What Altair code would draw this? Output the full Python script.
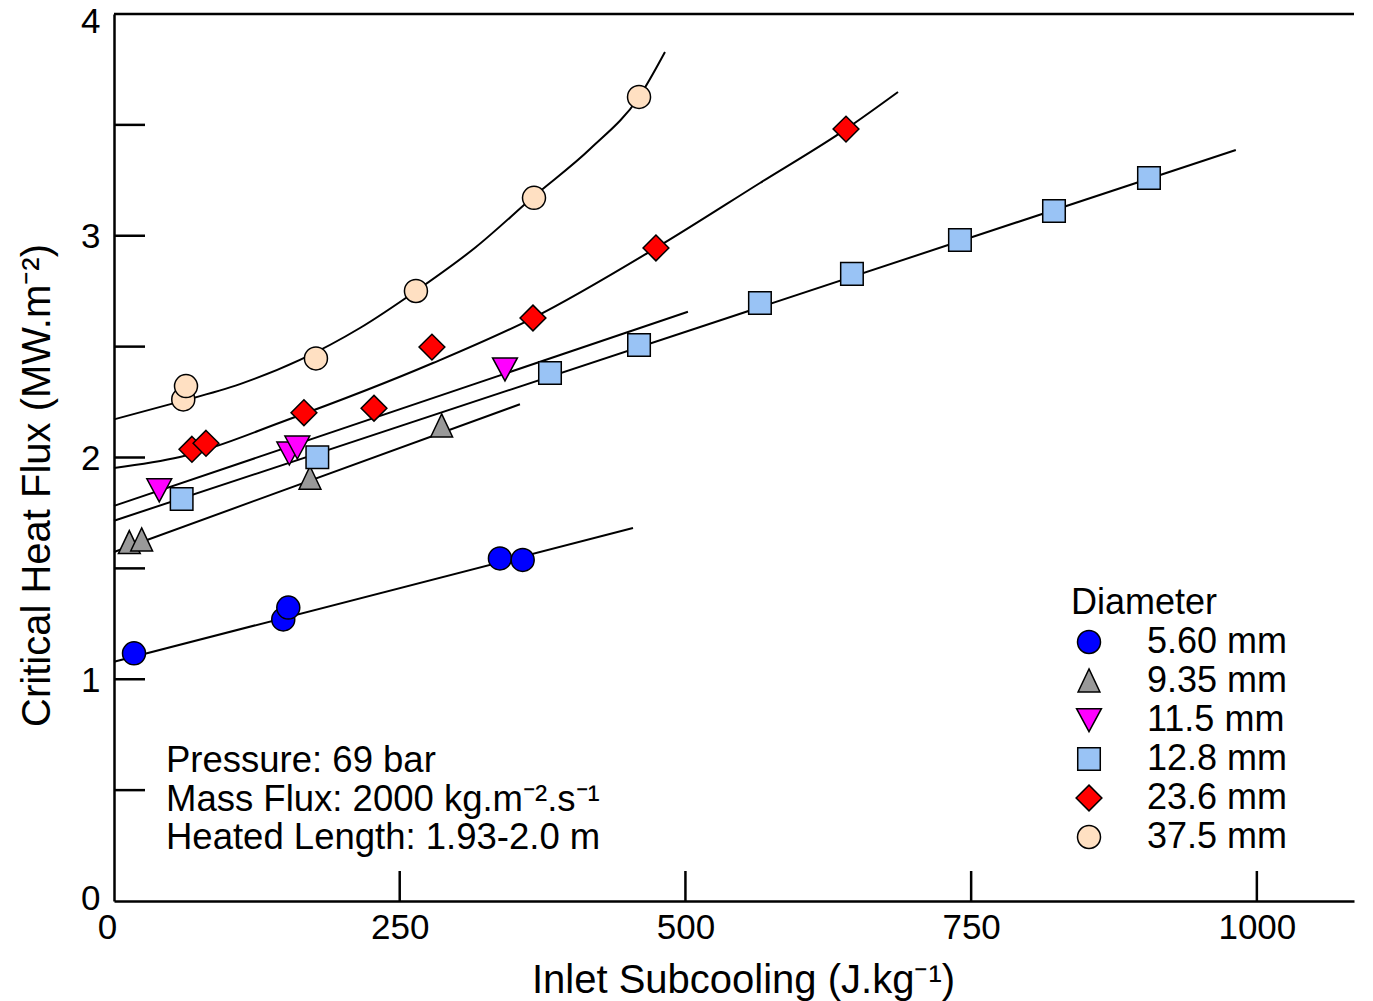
import altair as alt
import pandas as pd

FONT = "Liberation Sans, Arial, sans-serif"

# ---------------- data ----------------
diameters = ["5.60 mm", "9.35 mm", "11.5 mm", "12.8 mm", "23.6 mm", "37.5 mm"]
fill_colors = ["#0000ff", "#999999", "#ff00ff", "#99c3f5", "#ff0000", "#ffe0c2"]
stroke_colors = ["black", "black", "black", "black", "black", "black"]
shape_paths = [
    "circle",
    "M0,-1.05L0.95,0.95L-0.95,0.95Z",
    "M-1.08,-0.98L1.08,-0.98L0,1.02Z",
    "M-0.98,-0.98L0.98,-0.98L0.98,0.98L-0.98,0.98Z",
    "M0,-1.12L1.12,0L0,1.12L-1.12,0Z",
    "circle",
]

# measured points (inlet subcooling, CHF)
d560_x = [17.5, 148.1, 152.5, 337.7, 357.6]
d560_y = [1.117, 1.270, 1.323, 1.545, 1.538]
d935_x = [13.4, 24.2, 171.5, 286.7]
d935_y = [1.616, 1.628, 1.906, 2.142]
d115_x = [39.6, 153.4, 160.4, 342.1]
d115_y = [1.853, 2.019, 2.046, 2.398]
d128_x = [59.2, 177.9, 381.5, 459.4, 565.2, 645.7, 740.2, 822.5, 905.6]
d128_y = [1.813, 2.001, 2.381, 2.507, 2.697, 2.828, 2.981, 3.112, 3.260]
d236_x = [68.2, 80.5, 166.2, 227.5, 278.2, 366.6, 474.2, 640.5]
d236_y = [2.037, 2.064, 2.202, 2.222, 2.498, 2.629, 2.945, 3.481]
d375_x = [60.6, 63.0, 176.7, 264.2, 367.5, 459.4]
d375_y = [2.262, 2.322, 2.447, 2.751, 3.171, 3.626]

# fitted curves, knots
fit560_x = [0, 454.1]
fit560_y = [1.079, 1.682]
fit935_x = [0, 355.2]
fit935_y = [1.574, 2.240]
fit115_x = [0, 502.2]
fit115_y = [1.782, 2.657]
fit128_x = [0, 981.6]
fit128_y = [1.715, 3.387]
fit236_x = [0, 57.7, 151.4, 279.1, 366.6, 474.2, 565.2, 640.5, 686.0]
fit236_y = [1.953, 2.002, 2.169, 2.426, 2.629, 2.945, 3.238, 3.481, 3.648]
fit375_x = [0, 51.9, 110.2, 162.7, 215.2, 264.2, 316.2, 367.5, 416.5, 459.4, 482.1]
fit375_y = [2.172, 2.244, 2.331, 2.440, 2.584, 2.751, 2.947, 3.178, 3.391, 3.626, 3.829]

x_ticks = [250, 500, 750, 1000]
x_labels = [0, 250, 500, 750, 1000]
y_minor_ticks = [0.5, 1.0, 1.5, 2.0, 2.5, 3.0, 3.5]
y_labels = [0, 1, 2, 3, 4]

notes = ["Pressure: 69 bar", "Mass Flux: 2000 kg.m\u207b\u00b2.s\u207b\u00b9", "Heated Length: 1.93-2.0 m"]
notes_x = [45.5, 45.5, 45.5]
notes_y = [0.631, 0.457, 0.284]

X_MAX = 1085
Y_MAX = 4

# ---------------- tables ----------------
pts_sets = [(d560_x, d560_y), (d935_x, d935_y), (d115_x, d115_y),
            (d128_x, d128_y), (d236_x, d236_y), (d375_x, d375_y)]
fit_sets = [(fit560_x, fit560_y), (fit935_x, fit935_y), (fit115_x, fit115_y),
            (fit128_x, fit128_y), (fit236_x, fit236_y), (fit375_x, fit375_y)]

pts_rows, fit_rows = [], []
for name, (xs, ys) in zip(diameters, pts_sets):
    for a, b in zip(xs, ys):
        pts_rows.append({"x": a, "y": b, "Diameter": name})
for name, (xs, ys) in zip(diameters, fit_sets):
    for i, (a, b) in enumerate(zip(xs, ys)):
        fit_rows.append({"x": a, "y": b, "curve": name, "order": i})
pts = pd.DataFrame(pts_rows)
fits = pd.DataFrame(fit_rows)

xscale = alt.Scale(domain=[0, X_MAX], nice=False, zero=False)
yscale = alt.Scale(domain=[0, Y_MAX], nice=False, zero=False)

x_axis = alt.Axis(
    values=x_labels, ticks=False, tickSize=0, grid=False, format="d",
    domainColor="black", domainWidth=2.5, labelFlush=False,
    labelFont=FONT, labelFontSize=35, labelColor="black", labelPadding=9,
    labelOffset={"condition": [{"test": "datum.value == 0", "value": -7}], "value": 0},
    title="Inlet Subcooling (J.kg\u207b\u00b9)", titleFont=FONT, titleFontSize=40,
    titleFontWeight="normal", titleColor="black", titleX=629, titleY=79,
    titleBaseline="middle", titleAlign="center",
)
y_axis = alt.Axis(
    values=y_labels, ticks=False, tickSize=0, grid=False, format="d",
    domainColor="black", domainWidth=2.5,
    labelFont=FONT, labelFontSize=35, labelColor="black", labelPadding=14,
    labelOffset={"condition": [{"test": "datum.value == 4", "value": 7},
                               {"test": "datum.value == 0", "value": -3}], "value": 1},
    title="Critical Heat Flux (MW.m\u207b\u00b2)", titleFont=FONT, titleFontSize=40,
    titleFontWeight="normal", titleColor="black", titleX=-77, titleY=471,
    titleBaseline="middle", titleAlign="center", titleAngle=270,
)

lines = alt.Chart(fits).mark_line(color="black", strokeWidth=2, interpolate="monotone").encode(
    x=alt.X("x:Q", scale=xscale, axis=x_axis),
    y=alt.Y("y:Q", scale=yscale, axis=y_axis),
    detail="curve:N",
    order="order:Q",
)

legend = alt.Legend(
    orient="none", legendX=957, legendY=572, padding=0,
    title="Diameter", titleFont=FONT, titleFontSize=36, titleFontWeight="normal",
    titleColor="black", titlePadding=2,
    labelFont=FONT, labelFontSize=36, labelColor="black", labelOffset=40,
    symbolSize=529, symbolStrokeColor="black", symbolStrokeWidth=1.5,
    symbolOpacity=1, rowPadding=3,
)

points = alt.Chart(pts).mark_point(
    filled=True, size=529, strokeWidth=1.5, opacity=1
).encode(
    x=alt.X("x:Q", scale=xscale),
    y=alt.Y("y:Q", scale=yscale),
    fill=alt.Fill("Diameter:N", scale=alt.Scale(domain=diameters, range=fill_colors),
                  sort=diameters, legend=legend),
    shape=alt.Shape("Diameter:N", scale=alt.Scale(domain=diameters, range=shape_paths),
                    sort=diameters, legend=legend),
    stroke=alt.Stroke("Diameter:N", scale=alt.Scale(domain=diameters, range=stroke_colors),
                      sort=diameters, legend=legend),
)

xt = pd.DataFrame({"x": x_ticks})
x_tick_marks = alt.Chart(xt).mark_rule(color="black", strokeWidth=2.5).encode(
    x=alt.X("x:Q", scale=xscale), y=alt.value(857), y2=alt.value(887)
)
yt = pd.DataFrame({"y": y_minor_ticks})
y_tick_marks = alt.Chart(yt).mark_rule(color="black", strokeWidth=2.5).encode(
    y=alt.Y("y:Q", scale=yscale), x=alt.value(0), x2=alt.value(31)
)
top_line = alt.Chart(pd.DataFrame({"a": [0]})).mark_rule(color="black", strokeWidth=2.5).encode(
    x=alt.datum(0, scale=xscale), x2=alt.datum(X_MAX), y=alt.datum(Y_MAX, scale=yscale)
)

notes_df = pd.DataFrame({"x": notes_x, "y": notes_y, "t": notes})
note_text = alt.Chart(notes_df).mark_text(
    align="left", baseline="middle", font=FONT, fontSize=36.5, color="black"
).encode(x=alt.X("x:Q", scale=xscale), y=alt.Y("y:Q", scale=yscale), text="t:N")

chart = alt.layer(top_line, x_tick_marks, y_tick_marks, lines, points, note_text).properties(
    width=1240, height=887,
    autosize=alt.AutoSizeParams(type="none"),
    padding={"left": 106, "top": 6, "right": 4, "bottom": 100},
    background="white",
).configure_view(stroke=None)

chart.save("out.html", embed_options={"renderer": "svg", "actions": False})
